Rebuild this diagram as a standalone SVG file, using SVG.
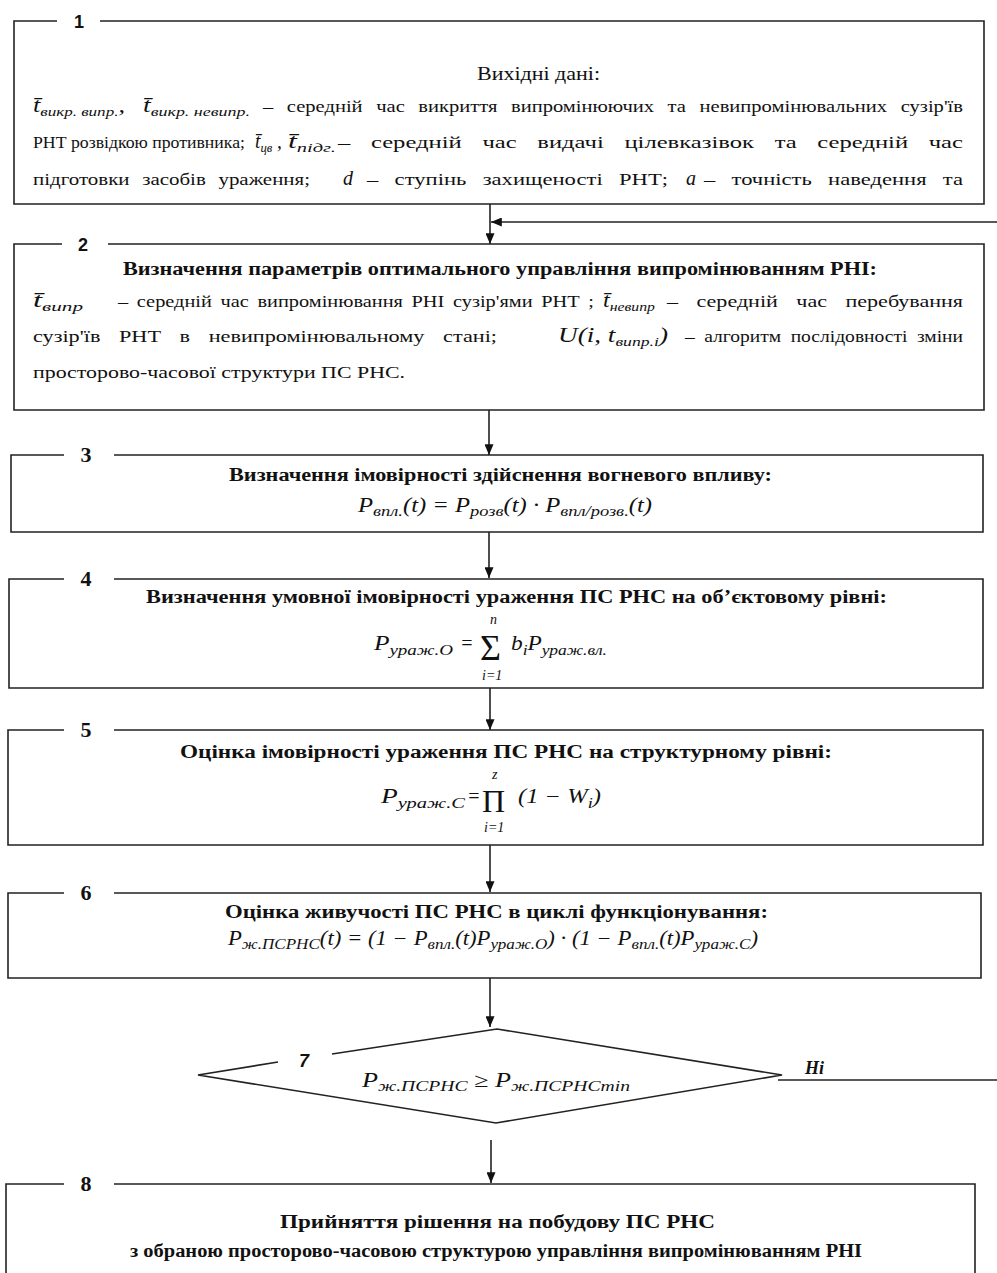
<svg xmlns="http://www.w3.org/2000/svg" width="997" height="1273" viewBox="0 0 997 1273">
<defs>
<marker id="ah" viewBox="0 0 12 10" refX="12" refY="5" markerWidth="12" markerHeight="9" orient="auto" markerUnits="userSpaceOnUse">
<path d="M0,0 L12,5 L0,10 z" fill="#111"/>
</marker>
<style>
.box{fill:none;stroke:#222;stroke-width:1.6}
.t{font-family:"Liberation Serif","Times New Roman",serif;font-size:17px;fill:#111}
.bt{font-family:"Liberation Serif","Times New Roman",serif;font-size:18px;font-weight:bold;fill:#111}
.m{font-family:"Liberation Serif","Times New Roman",serif;font-style:italic;font-size:20px;fill:#111}
.s{font-size:13px}
.s2{font-size:15px}
.lim{font-family:"Liberation Serif","Times New Roman",serif;font-style:italic;font-size:14px;fill:#111}
.big{font-family:"Liberation Serif","Times New Roman",serif;font-size:36px;fill:#111}
.lab{font-family:"Liberation Sans",Arial,sans-serif;font-weight:bold;font-size:18px;fill:#111;text-anchor:middle}
.lab2{font-family:"Liberation Serif","Times New Roman",serif;font-weight:bold;font-size:22px;fill:#111;text-anchor:middle}
.no{font-family:"Liberation Serif","Times New Roman",serif;font-weight:bold;font-style:italic;font-size:18px;fill:#111}
.conn{stroke:#222;stroke-width:1.6;fill:none}
.arr{marker-end:url(#ah)}
</style>
</defs>
<rect width="997" height="1273" fill="#fff"/>

<g id="connectors">
<path class="conn arr" d="M490,204 V244"/>
<path class="conn arr" d="M997,222 H491"/>
<path class="conn arr" d="M489,410 V455"/>
<path class="conn arr" d="M489,532 V578"/>
<path class="conn arr" d="M490,688 V730"/>
<path class="conn arr" d="M490,845 V892"/>
<path class="conn arr" d="M490,978 V1027"/>
<path class="conn arr" d="M491,1140 V1183"/>
<path class="conn" d="M778,1080 H997"/>
<text class="no" x="805" y="1074">Ні</text>
</g>

<g id="node1">
<path class="box" d="M57,21 H14 V204 H984 V21 H100"/>
<text class="lab" x="79" y="28">1</text>
<text class="t" x="477" y="80" textLength="123" lengthAdjust="spacingAndGlyphs" style="font-size:18px">Вихідні дані:</text>
<text class="m" x="33" y="112" textLength="92" lengthAdjust="spacingAndGlyphs">t̄<tspan class="s" dy="4">викр. випр.</tspan><tspan dy="-4">,</tspan></text>
<text class="m" x="143" y="112" textLength="107" lengthAdjust="spacingAndGlyphs">t̄<tspan class="s" dy="4">викр. невипр.</tspan></text>
<text class="t" x="263" y="112" word-spacing="7" textLength="700" lengthAdjust="spacingAndGlyphs">– середній час викриття випромінюючих та невипромінювальних сузір'їв</text>
<text class="t" x="33" y="148" word-spacing="0" textLength="212" lengthAdjust="spacingAndGlyphs">РНТ розвідкою противника;</text>
<text class="m" x="255" y="148" textLength="27" lengthAdjust="spacingAndGlyphs">t̄<tspan class="s" dy="4">цв</tspan><tspan dy="-4"> ,</tspan></text>
<text class="m" x="288" y="148" textLength="48" lengthAdjust="spacingAndGlyphs">t̄<tspan class="s" dy="4">підг.</tspan></text>
<text class="t" x="338" y="148" word-spacing="10" textLength="625" lengthAdjust="spacingAndGlyphs">– середній час видачі цілевказівок та середній час</text>
<text class="t" x="33" y="185" word-spacing="6" textLength="277" lengthAdjust="spacingAndGlyphs">підготовки засобів ураження;</text>
<text class="m" x="343" y="185">d</text>
<text class="t" x="367" y="185" word-spacing="8" textLength="301" lengthAdjust="spacingAndGlyphs">– ступінь захищеності РНТ;</text>
<text class="m" x="686" y="185">a</text>
<text class="t" x="704" y="185" word-spacing="8" textLength="259" lengthAdjust="spacingAndGlyphs">– точність наведення та</text>
</g>

<g id="node2">
<path class="box" d="M62,244 H14 V410 H984 V244 H108"/>
<text class="lab" x="83" y="251">2</text>
<text class="bt" x="123" y="275" textLength="754" lengthAdjust="spacingAndGlyphs">Визначення параметрів оптимального управління випромінюванням РНІ:</text>
<text class="m" x="33" y="307" textLength="50" lengthAdjust="spacingAndGlyphs">t̄<tspan class="s" dy="4">випр</tspan></text>
<text class="t" x="118" y="307" word-spacing="3" textLength="476" lengthAdjust="spacingAndGlyphs">– середній час випромінювання РНІ сузір'ями РНТ ;</text>
<text class="m" x="603" y="307" textLength="52" lengthAdjust="spacingAndGlyphs">t̄<tspan class="s" dy="4">невипр</tspan></text>
<text class="t" x="667" y="307" word-spacing="10" textLength="296" lengthAdjust="spacingAndGlyphs">– середній час перебування</text>
<text class="t" x="33" y="342" word-spacing="10" textLength="464" lengthAdjust="spacingAndGlyphs">сузір'їв РНТ в невипромінювальному стані;</text>
<text class="m" x="558" y="342" textLength="110" lengthAdjust="spacingAndGlyphs">U(i, t<tspan class="s" dy="4">випр.i</tspan><tspan dy="-4">)</tspan></text>
<text class="t" x="685" y="342" word-spacing="4" textLength="278" lengthAdjust="spacingAndGlyphs">– алгоритм послідовності зміни</text>
<text class="t" x="33" y="378" textLength="372" lengthAdjust="spacingAndGlyphs">просторово-часової структури ПС РНС.</text>
</g>

<g id="node3">
<path class="box" d="M64,455 H11 V532 H983 V455 H114"/>
<text class="lab2" x="86" y="462">3</text>
<text class="bt" x="229" y="481" textLength="543" lengthAdjust="spacingAndGlyphs">Визначення імовірності здійснення вогневого впливу:</text>
<text class="m" x="358" y="512" textLength="294" lengthAdjust="spacingAndGlyphs">P<tspan class="s2" dy="4">впл.</tspan><tspan dy="-4">(t) = P</tspan><tspan class="s2" dy="4">розв</tspan><tspan dy="-4">(t) · P</tspan><tspan class="s2" dy="4">впл/розв.</tspan><tspan dy="-4">(t)</tspan></text>
</g>

<g id="node4">
<path class="box" d="M64,579 H9 V688 H983 V579 H114"/>
<text class="lab2" x="86" y="586">4</text>
<text class="bt" x="146" y="603" textLength="741" lengthAdjust="spacingAndGlyphs">Визначення умовної імовірності ураження ПС РНС на об’єктовому рівні:</text>
<text class="m" x="374" y="650" textLength="79" lengthAdjust="spacingAndGlyphs">P<tspan class="s2" dy="5">ураж.О</tspan></text>
<text class="m" x="460" y="650">=</text>
<text class="big" x="480" y="660">Σ</text>
<text class="lim" x="490" y="624">n</text>
<text class="lim" x="482" y="680">i=1</text>
<text class="m" x="511" y="650" textLength="96" lengthAdjust="spacingAndGlyphs">b<tspan class="s2" dy="5">i</tspan><tspan dy="-5">P</tspan><tspan class="s2" dy="5">ураж.вл.</tspan></text>
</g>

<g id="node5">
<path class="box" d="M64,730 H8 V845 H983 V730 H114"/>
<text class="lab2" x="86" y="737">5</text>
<text class="bt" x="180" y="758" textLength="652" lengthAdjust="spacingAndGlyphs">Оцінка імовірності ураження ПС РНС на структурному рівні:</text>
<text class="m" x="381" y="803" textLength="84" lengthAdjust="spacingAndGlyphs">P<tspan class="s2" dy="5">ураж.С</tspan></text>
<text class="m" x="467" y="803">=</text>
<text class="big" x="482" y="812" style="font-size:32px">Π</text>
<text class="lim" x="492" y="779">z</text>
<text class="lim" x="484" y="832">i=1</text>
<text class="m" x="518" y="803" textLength="83" lengthAdjust="spacingAndGlyphs">(1 − W<tspan class="s2" dy="5">i</tspan><tspan dy="-5">)</tspan></text>
</g>

<g id="node6">
<path class="box" d="M64,893 H8 V978 H981 V893 H114"/>
<text class="lab2" x="86" y="900">6</text>
<text class="bt" x="225" y="918" textLength="543" lengthAdjust="spacingAndGlyphs">Оцінка живучості ПС РНС в циклі функціонування:</text>
<text class="m" x="228" y="945" textLength="530" lengthAdjust="spacingAndGlyphs">P<tspan class="s2" dy="4">ж.ПСРНС</tspan><tspan dy="-4">(t) = (1 − P</tspan><tspan class="s2" dy="4">впл.</tspan><tspan dy="-4">(t)P</tspan><tspan class="s2" dy="4">ураж.О</tspan><tspan dy="-4">) · (1 − P</tspan><tspan class="s2" dy="4">впл.</tspan><tspan dy="-4">(t)P</tspan><tspan class="s2" dy="4">ураж.С</tspan><tspan dy="-4">)</tspan></text>
</g>

<g id="node7">
<path class="box" d="M278,1062 L198,1075 L496,1123 L782,1075 L497,1029 L332,1054"/>
<text class="lab" x="304" y="1067" font-style="italic">7</text>
<text class="m" x="362" y="1087" textLength="268" lengthAdjust="spacingAndGlyphs">P<tspan class="s2" dy="4">ж.ПСРНС</tspan><tspan dy="-4"> ≥ P</tspan><tspan class="s2" dy="4">ж.ПСРНСmin</tspan></text>
</g>

<g id="node8">
<path class="box" d="M64,1184 H6 V1295 H975 V1184 H114"/>
<text class="lab2" x="86" y="1191">8</text>
<text class="bt" x="280" y="1228" textLength="435" lengthAdjust="spacingAndGlyphs">Прийняття рішення на побудову ПС РНС</text>
<text class="bt" x="130" y="1257" textLength="732" lengthAdjust="spacingAndGlyphs">з обраною просторово-часовою структурою управління випромінюванням РНІ</text>
</g>
</svg>
